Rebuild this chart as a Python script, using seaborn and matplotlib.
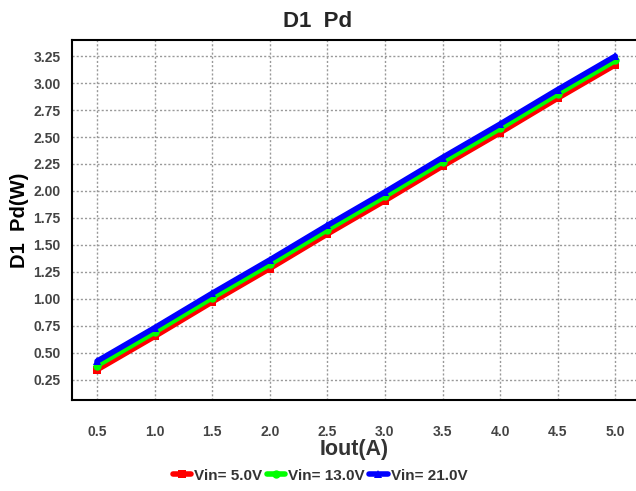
import pandas as pd
import matplotlib
matplotlib.use("Agg")
import matplotlib.pyplot as plt
import seaborn as sns

# data
iout = [0.5, 1.0, 1.5, 2.0, 2.5, 3.0, 3.5, 4.0, 4.5, 5.0]
pd_vin5 = [0.34, 0.65, 0.97, 1.28, 1.60, 1.91, 2.23, 2.54, 2.86, 3.17]
pd_vin13 = [0.38, 0.69, 1.01, 1.32, 1.64, 1.95, 2.27, 2.58, 2.90, 3.21]
pd_vin21 = [0.42, 0.73, 1.05, 1.36, 1.68, 1.99, 2.31, 2.62, 2.94, 3.25]
series_names = ["Vin= 5.0V", "Vin= 13.0V", "Vin= 21.0V"]
x_ticks = [0.5, 1.0, 1.5, 2.0, 2.5, 3.0, 3.5, 4.0, 4.5, 5.0]
y_ticks = [0.25, 0.50, 0.75, 1.00, 1.25, 1.50, 1.75, 2.00, 2.25, 2.50, 2.75, 3.00, 3.25]

# long format for seaborn
frames = []
for name, vals in zip(series_names, [pd_vin5, pd_vin13, pd_vin21]):
    frames.append(pd.DataFrame({"Iout": iout, "Pd": vals, "Vin": name}))
data = pd.concat(frames, ignore_index=True)

sns.set_style("white")
plt.rcParams['font.family'] = ['Liberation Sans', 'DejaVu Sans']

fig = plt.figure(figsize=(6.36, 4.91), dpi=100)
ax = fig.add_axes([0.1127, 0.1853, 0.8873, 0.7332])

colors = {"Vin= 5.0V": "#ff0000", "Vin= 13.0V": "#00ff00", "Vin= 21.0V": "#0000ff"}
markers = {"Vin= 5.0V": "s", "Vin= 13.0V": "o", "Vin= 21.0V": "^"}
sns.lineplot(data=data, x="Iout", y="Pd", hue="Vin", style="Vin",
             palette=colors, markers=markers, dashes=False,
             linewidth=4, markersize=6, markeredgewidth=0, ax=ax)

ax.set_xlim(0.28, 5.18)
ax.set_ylim(0.06, 3.40)
ax.set_xticks(x_ticks)
ax.set_xticklabels([f"{v:.1f}" for v in x_ticks])
ax.set_yticks(y_ticks)
ax.set_yticklabels([f"{v:.2f}" for v in y_ticks])
ax.tick_params(axis="both", length=0, labelsize=10, labelcolor="#444444")
ax.tick_params(axis="x", pad=18)
ax.tick_params(axis="y", pad=8)
for lab in ax.get_xticklabels() + ax.get_yticklabels():
    lab.set_fontweight("bold")

ax.grid(True, color="#999999", linestyle=(0, (1.5, 1.5)), linewidth=1)
for side in ["left", "top", "bottom"]:
    ax.spines[side].set_color("black")
    ax.spines[side].set_linewidth(1.5)
ax.spines["right"].set_visible(False)

ax.set_xlabel("Iout(A)", fontsize=15.5, fontweight="bold", color="#333333", labelpad=0)
ax.set_ylabel("D1  Pd(W)", fontsize=14.5, fontweight="bold", color="black", labelpad=3)
fig.suptitle("D1  Pd", fontsize=16, fontweight="bold", y=0.978)

ax.legend(loc="center", bbox_to_anchor=(0.44, -0.21), ncol=3, frameon=False,
          prop={"weight": "bold", "size": 11}, handlelength=1.2, handletextpad=0.2,
          columnspacing=0.3, labelcolor="#333333")

fig.savefig("out.png", dpi=100)
